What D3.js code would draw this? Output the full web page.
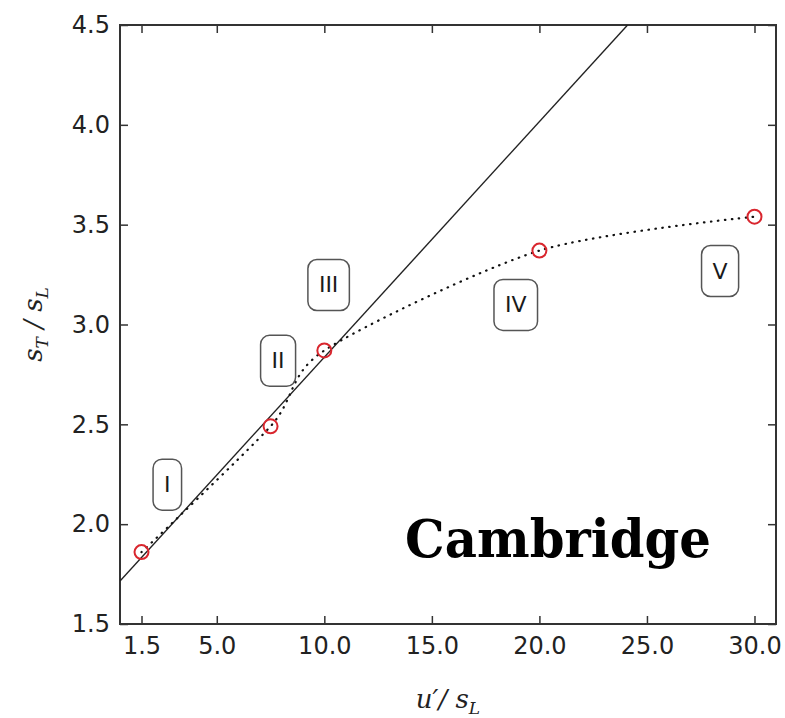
<!DOCTYPE html>
<html>
<head>
<meta charset="utf-8">
<script src="https://cdn.jsdelivr.net/npm/d3@7"></script>
<style>
    body { margin: 0; background: #fff; }
    svg { display: block; }
    .tick text { font-family: 'DejaVu Sans', sans-serif; fill: #222; }
    .tick line { stroke: #333; stroke-width: 1.5; }
</style>
</head>
<body>
<div id="chart"></div>
<script>
// measured points
const speedRatio = [1.5, 7.5, 10.0, 20.0, 30.0];
const flameRatio = [1.86, 2.49, 2.87, 3.37, 3.54];

// solid reference line (two end points)
const lineX = [0.5, 24.1];
const lineY = [1.715, 4.5];

// regime labels
const regimeNames = ['I', 'II', 'III', 'IV', 'V'];
const regimeX = [2.7, 7.85, 10.2, 18.9, 28.4];
const regimeY = [2.2, 2.82, 3.2, 3.1, 3.27];

const xTicks = [1.5, 5.0, 10.0, 15.0, 20.0, 25.0, 30.0];
const yTicks = [1.5, 2.0, 2.5, 3.0, 3.5, 4.0, 4.5];

const W = 785, H = 718;
const margin = { top: 25, right: 9, bottom: 94, left: 120 };
const w = W - margin.left - margin.right;
const h = H - margin.top - margin.bottom;

const svg = d3.select('#chart').append('svg')
    .attr('width', W)
    .attr('height', H);

const g = svg.append('g')
    .attr('transform', `translate(${margin.left},${margin.top})`);

const x = d3.scaleLinear().domain([0.5, 31]).range([0, w]);
const y = d3.scaleLinear().domain([1.5, 4.5]).range([h, 0]);

g.append('clipPath').attr('id', 'plot-clip')
    .append('rect').attr('width', w).attr('height', h);

// axes, ticks pointing inward
const fmt = d3.format('.1f');
g.append('g')
    .attr('transform', `translate(0,${h})`)
    .call(d3.axisBottom(x).tickValues(xTicks).tickFormat(fmt).tickSize(-8).tickPadding(13));
g.append('g')
    .call(d3.axisTop(x).tickValues(xTicks).tickFormat('').tickSize(-8));
g.append('g')
    .call(d3.axisLeft(y).tickValues(yTicks).tickFormat(fmt).tickSize(-8).tickPadding(10));
g.append('g')
    .attr('transform', `translate(${w},0)`)
    .call(d3.axisRight(y).tickValues(yTicks).tickFormat('').tickSize(-8));

g.selectAll('.domain').remove();
g.selectAll('.tick text').style('font-size', '24px');

g.append('rect')
    .attr('width', w)
    .attr('height', h)
    .attr('fill', 'none')
    .attr('stroke', '#333')
    .attr('stroke-width', 2);

const plot = g.append('g').attr('clip-path', 'url(#plot-clip)');

// solid line
plot.append('path')
    .datum(d3.zip(lineX, lineY))
    .attr('d', d3.line().x((d) => x(d[0])).y((d) => y(d[1])))
    .attr('fill', 'none')
    .attr('stroke', '#222')
    .attr('stroke-width', 1.4);

// dotted trend through the points
const pts = d3.zip(speedRatio, flameRatio);
plot.append('path')
    .datum(pts)
    .attr('d', d3.line().curve(d3.curveCardinal.tension(0.2)).x((d) => x(d[0])).y((d) => y(d[1])))
    .attr('fill', 'none')
    .attr('stroke', '#111')
    .attr('stroke-width', 2.2)
    .attr('stroke-linecap', 'round')
    .attr('stroke-dasharray', '0.5,6.5');

// regime labels
const labels = g.selectAll('.regime')
    .data(regimeNames)
    .enter()
    .append('g')
    .attr('class', 'regime')
    .attr('transform', (d, i) => `translate(${x(regimeX[i])},${y(regimeY[i])})`);

labels.append('text')
    .attr('text-anchor', 'middle')
    .attr('dy', '0.36em')
    .style('font-family', "'DejaVu Sans', sans-serif")
    .style('font-size', '22px')
    .attr('fill', '#1a1a1a')
    .text((d) => d);

labels.each(function() {
    const node = d3.select(this);
    const bb = node.select('text').node().getBBox();
    const padX = 11, padY = 13;
    node.insert('rect', 'text')
        .attr('x', bb.x - padX)
        .attr('y', bb.y - padY)
        .attr('width', bb.width + 2 * padX)
        .attr('height', bb.height + 2 * padY)
        .attr('rx', 9)
        .attr('fill', '#fff')
        .attr('stroke', '#555')
        .attr('stroke-width', 1.5);
});

// data points
g.selectAll('.pt')
    .data(pts)
    .enter()
    .append('circle')
    .attr('class', 'pt')
    .attr('cx', (d) => x(d[0]))
    .attr('cy', (d) => y(d[1]))
    .attr('r', 7)
    .attr('fill', 'none')
    .attr('stroke', '#d9262e')
    .attr('stroke-width', 2);

// axis titles
const xt = svg.append('text')
    .attr('x', margin.left + w / 2)
    .attr('y', 708)
    .attr('text-anchor', 'middle')
    .style('font-family', "'DejaVu Serif', serif")
    .style('font-style', 'italic')
    .style('font-size', '26px')
    .attr('fill', '#222');
xt.append('tspan').text('u′/ s');
xt.append('tspan').attr('dy', 6).style('font-size', '17px').text('L');

const yt = svg.append('text')
    .attr('transform', `translate(42,${margin.top + h / 2}) rotate(-90)`)
    .attr('text-anchor', 'middle')
    .style('font-family', "'DejaVu Serif', serif")
    .style('font-style', 'italic')
    .style('font-size', '26px')
    .attr('fill', '#222');
yt.append('tspan').text('s');
yt.append('tspan').attr('dy', 6).style('font-size', '17px').text('T');
yt.append('tspan').attr('dy', -6).text(' / s');
yt.append('tspan').attr('dy', 6).style('font-size', '17px').text('L');

// watermark
svg.append('text')
    .attr('x', 405)
    .attr('y', 557)
    .attr('textLength', 306)
    .attr('lengthAdjust', 'spacingAndGlyphs')
    .style('font-family', "'DejaVu Serif', serif")
    .style('font-weight', 'bold')
    .style('font-size', '53px')
    .attr('fill', '#000')
    .text('Cambridge');
</script>
</body>
</html>
